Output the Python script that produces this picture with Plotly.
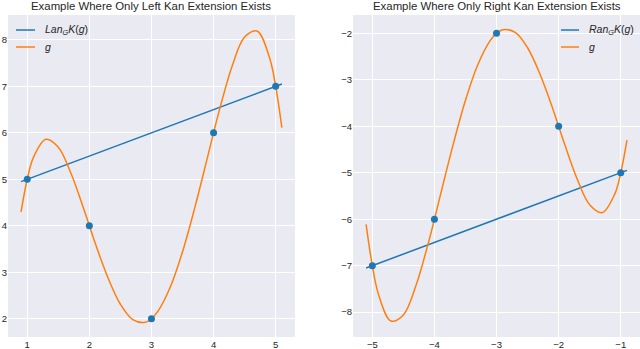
import plotly.graph_objects as go
from plotly.subplots import make_subplots

# left panel: sample points, extension line endpoints and the smooth g curve
left_pts_x = [1, 2, 3, 4, 5]
left_pts_y = [5, 4, 2, 6, 7]
left_lan_x = [0.9, 5.1]
left_lan_y = [4.95, 7.05]
left_g_x = [0.9, 1.0, 1.1, 1.3, 1.5, 1.7, 1.9, 2.0, 2.1, 2.3, 2.5, 2.7, 2.9, 3.0,
            3.1, 3.3, 3.5, 3.7, 3.9, 4.0, 4.1, 4.3, 4.5, 4.7, 4.9, 5.0, 5.1]
left_g_y = [4.30, 5.00, 5.47, 5.86, 5.69, 5.14, 4.40, 4.00, 3.60, 2.88, 2.31, 1.98, 1.92, 2.00,
            2.15, 2.67, 3.44, 4.40, 5.46, 6.00, 6.52, 7.44, 8.06, 8.19, 7.62, 7.00, 6.11]

# right panel
right_pts_x = [-5, -4, -3, -2, -1]
right_pts_y = [-7, -6, -2, -4, -5]
right_ran_x = [-5.1, -0.9]
right_ran_y = [-7.05, -4.95]
right_g_x = [-5.1, -5.0, -4.9, -4.7, -4.5, -4.3, -4.1, -4.0, -3.9, -3.7, -3.5, -3.3, -3.1, -3.0,
             -2.9, -2.7, -2.5, -2.3, -2.1, -2.0, -1.9, -1.7, -1.5, -1.3, -1.1, -1.0, -0.9]
right_g_y = [-6.11, -7.00, -7.62, -8.19, -8.06, -7.44, -6.52, -6.00, -5.46, -4.40, -3.44, -2.67, -2.15, -2.00,
             -1.92, -1.98, -2.31, -2.88, -3.60, -4.00, -4.40, -5.14, -5.69, -5.86, -5.47, -5.00, -4.30]

titles = ['Example Where Only Left Kan Extension Exists',
          'Example Where Only Right Kan Extension Exists']
legend_left = ['<i>Lan</i><sub><i>G</i></sub><i>K</i>(<i>g</i>)', '<i>g</i>']
legend_right = ['<i>Ran</i><sub><i>G</i></sub><i>K</i>(<i>g</i>)', '<i>g</i>']

BLUE = '#1f77b4'
ORANGE = '#ff7f0e'
FONT = 'Liberation Sans, Arial, sans-serif'
TXT = '#262626'

fig = make_subplots(rows=1, cols=2)

# left
fig.add_trace(go.Scatter(x=left_lan_x, y=left_lan_y, mode='lines', line=dict(color=BLUE, width=1.5),
                         name=legend_left[0]), row=1, col=1)
fig.add_trace(go.Scatter(x=left_g_x, y=left_g_y, mode='lines', line=dict(color=ORANGE, width=1.5, shape='spline'),
                         name=legend_left[1]), row=1, col=1)
fig.add_trace(go.Scatter(x=left_pts_x, y=left_pts_y, mode='markers', marker=dict(color=BLUE, size=7)), row=1, col=1)

# right
fig.add_trace(go.Scatter(x=right_ran_x, y=right_ran_y, mode='lines', line=dict(color=BLUE, width=1.5),
                         name=legend_right[0]), row=1, col=2)
fig.add_trace(go.Scatter(x=right_g_x, y=right_g_y, mode='lines', line=dict(color=ORANGE, width=1.5, shape='spline'),
                         name=legend_right[1]), row=1, col=2)
fig.add_trace(go.Scatter(x=right_pts_x, y=right_pts_y, mode='markers', marker=dict(color=BLUE, size=7)), row=1, col=2)

axis_style = dict(showgrid=True, gridcolor='white', gridwidth=1, zeroline=False, showline=False,
                  ticks='', automargin=False, tickfont=dict(size=9.5, color=TXT, family=FONT))

fig.update_xaxes(**axis_style)
fig.update_yaxes(**axis_style)
fig.update_xaxes(domain=[0.0, 0.454], range=[0.69, 5.31], tickvals=[1, 2, 3, 4, 5], row=1, col=1)
fig.update_xaxes(domain=[0.546, 1.0], range=[-5.31, -0.69], tickvals=[-5, -4, -3, -2, -1], row=1, col=2)
fig.update_yaxes(range=[1.605, 8.535], tickvals=[2, 3, 4, 5, 6, 7, 8], row=1, col=1)
fig.update_yaxes(range=[-8.535, -1.605], tickvals=[-8, -7, -6, -5, -4, -3, -2], row=1, col=2)

# hand-drawn legends (matplotlib style short handles, no frame)
annotations = [
    dict(text=titles[0], x=0.227, y=1.028, xanchor='center'),
    dict(text=titles[1], x=0.773, y=1.028, xanchor='center'),
]
shapes = []
legend_rows = [0.9534, 0.9006]
for labels, (x0, x1, xt) in ((legend_left, (0.0127, 0.0427, 0.0554)),
                             (legend_right, (0.875, 0.9035, 0.916))):
    for label, yy, color in zip(labels, legend_rows, (BLUE, ORANGE)):
        shapes.append(dict(type='line', xref='paper', yref='paper', x0=x0, x1=x1, y0=yy, y1=yy,
                           line=dict(color=color, width=1.5)))
        annotations.append(dict(text=label, x=xt, y=yy, xanchor='left', font_size=10.5))
for a in annotations:
    a.update(xref='paper', yref='paper', yanchor='middle', showarrow=False)
    a['font'] = dict(size=a.pop('font_size', 11.4), color=TXT, family=FONT)

fig.update_layout(
    width=640, height=349,
    margin=dict(l=8, r=0, t=15, b=12, autoexpand=False),
    paper_bgcolor='white',
    plot_bgcolor='#EAEAF2',
    font=dict(family=FONT, color=TXT),
    showlegend=False,
    shapes=shapes,
    annotations=annotations,
)

config = dict({
    'displayModeBar': False,
    'scrollZoom': False,
    'editable': False
})

fig.write_html('out.html', config=config, post_script="document.body.style.margin='0';")
